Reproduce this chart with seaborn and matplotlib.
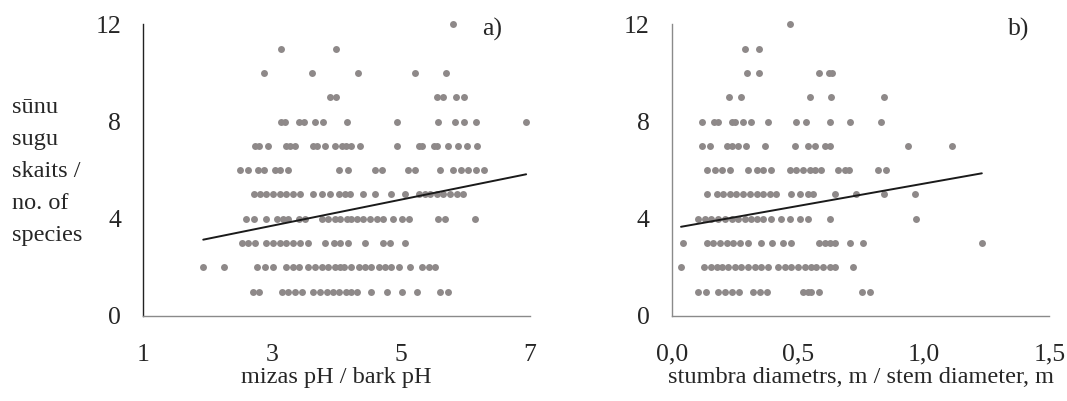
import matplotlib
matplotlib.use("Agg")
import matplotlib.pyplot as plt
from matplotlib.ticker import FuncFormatter
import seaborn as sns
import pandas as pd

# Bark pH of each tree, grouped by the number of moss species found on it
ph_1 = [2.70, 2.80, 3.15, 3.25, 3.35, 3.46, 3.64, 3.74, 3.85, 3.95, 4.03, 4.15, 4.23, 4.32, 4.54, 4.78, 5.01, 5.25, 5.60, 5.73]
ph_2 = [1.93, 2.25, 2.76, 2.89, 3.02, 3.22, 3.33, 3.42, 3.56, 3.66, 3.77, 3.87, 3.97, 4.05, 4.12, 4.23, 4.34, 4.44, 4.54, 4.65, 4.75, 4.85, 4.96, 5.14, 5.32, 5.43, 5.53]
ph_3 = [2.53, 2.63, 2.73, 2.91, 3.02, 3.12, 3.22, 3.33, 3.43, 3.56, 3.82, 3.96, 4.05, 4.18, 4.44, 4.72, 4.83, 5.06]
ph_4 = [2.59, 2.71, 2.91, 3.07, 3.16, 3.25, 3.41, 3.51, 3.77, 3.87, 3.97, 4.05, 4.16, 4.23, 4.31, 4.41, 4.52, 4.62, 4.72, 4.88, 5.01, 5.13, 5.58, 5.68, 6.15]
ph_5 = [2.71, 2.81, 2.91, 3.02, 3.12, 3.22, 3.33, 3.43, 3.64, 3.77, 3.90, 4.03, 4.13, 4.21, 4.41, 4.59, 4.85, 5.06, 5.28, 5.37, 5.45, 5.55, 5.65, 5.76, 5.86, 5.96]
ph_6 = [2.50, 2.62, 2.78, 2.88, 3.04, 3.12, 3.24, 4.03, 4.17, 4.59, 4.70, 5.11, 5.22, 5.60, 5.81, 5.93, 6.04, 6.16, 6.28]
ph_7 = [2.73, 2.80, 2.94, 3.21, 3.27, 3.35, 3.63, 3.69, 3.82, 3.97, 4.08, 4.15, 4.23, 4.36, 4.93, 5.27, 5.33, 5.51, 5.56, 5.73, 5.88, 6.03, 6.17]
ph_8 = [3.13, 3.20, 3.42, 3.50, 3.66, 3.79, 4.16, 4.93, 5.58, 5.84, 5.97, 6.16, 6.94]
ph_9 = [3.89, 3.99, 5.55, 5.65, 5.85, 5.97]
ph_10 = [2.88, 3.61, 4.33, 5.22, 5.69]
ph_11 = [3.13, 3.99]
ph_12 = [5.81]

# Stem diameter (m) of each tree, grouped by the number of moss species
diam_1 = [0.105, 0.135, 0.185, 0.211, 0.238, 0.267, 0.323, 0.350, 0.380, 0.521, 0.541, 0.555, 0.587, 0.756, 0.788]
diam_2 = [0.037, 0.129, 0.156, 0.178, 0.198, 0.224, 0.251, 0.277, 0.303, 0.330, 0.356, 0.383, 0.422, 0.449, 0.475, 0.501, 0.528, 0.554, 0.574, 0.601, 0.627, 0.647, 0.722]
diam_3 = [0.044, 0.139, 0.165, 0.191, 0.218, 0.244, 0.271, 0.303, 0.356, 0.399, 0.442, 0.475, 0.587, 0.607, 0.627, 0.647, 0.709, 0.759, 1.232]
diam_4 = [0.105, 0.132, 0.158, 0.185, 0.211, 0.238, 0.264, 0.290, 0.317, 0.337, 0.363, 0.396, 0.436, 0.468, 0.508, 0.541, 0.627, 0.970]
diam_5 = [0.139, 0.178, 0.204, 0.231, 0.257, 0.284, 0.310, 0.337, 0.363, 0.390, 0.416, 0.475, 0.508, 0.540, 0.560, 0.650, 0.733, 0.845, 0.966]
diam_6 = [0.139, 0.172, 0.198, 0.231, 0.303, 0.337, 0.363, 0.396, 0.468, 0.495, 0.521, 0.548, 0.568, 0.594, 0.660, 0.687, 0.706, 0.818, 0.851]
diam_7 = [0.119, 0.152, 0.218, 0.238, 0.264, 0.297, 0.370, 0.488, 0.541, 0.568, 0.607, 0.627, 0.937, 1.113]
diam_8 = [0.121, 0.169, 0.182, 0.238, 0.253, 0.284, 0.317, 0.383, 0.495, 0.532, 0.627, 0.709, 0.832]
diam_9 = [0.228, 0.277, 0.548, 0.634, 0.845]
diam_10 = [0.300, 0.347, 0.585, 0.625, 0.635]
diam_11 = [0.290, 0.346]
diam_12 = [0.470]

# Linear trend lines (end points)
fit_ph_x = [1.93, 6.94]
fit_ph_y = [3.14, 5.83]
fit_diam_x = [0.037, 1.232]
fit_diam_y = [3.67, 5.87]

x_ticks_ph = [1, 3, 5, 7]
x_ticks_diam = [0.0, 0.5, 1.0, 1.5]
y_ticks = [0, 4, 8, 12]
ylabel_lines = ["sūnu", "sugu", "skaits /", "no. of", "species"]
xlabel_ph = "mizas pH / bark pH"
xlabel_diam = "stumbra diametrs, m / stem diameter, m"


def to_frame(groups, name):
    rows = []
    for count, values in enumerate(groups, start=1):
        for v in values:
            rows.append({name: v, "species": count})
    return pd.DataFrame(rows)


df_ph = to_frame([ph_1, ph_2, ph_3, ph_4, ph_5, ph_6, ph_7, ph_8, ph_9, ph_10, ph_11, ph_12], "ph")
df_diam = to_frame([diam_1, diam_2, diam_3, diam_4, diam_5, diam_6, diam_7, diam_8,
                    diam_9, diam_10, diam_11, diam_12], "diam")

sns.set_style("white")
plt.rcParams["font.family"] = ["Liberation Serif", "DejaVu Serif"]

W, H = 1067, 401
fig = plt.figure(figsize=(W / 100, H / 100), dpi=100)

y_top, y_bot = 24.3, 316.0
ax_a = fig.add_axes([143.3 / W, 1 - y_bot / H, (530.0 - 143.3) / W, (y_bot - y_top) / H])
ax_b = fig.add_axes([671.7 / W, 1 - y_bot / H, (1049.3 - 671.7) / W, (y_bot - y_top) / H])

dot = "#8e8989"
fs = 17.5
fs_tick = 18.5

sns.scatterplot(data=df_ph, x="ph", y="species", ax=ax_a, color=dot, s=25,
                linewidth=0, clip_on=False, zorder=3)
sns.lineplot(x=fit_ph_x, y=fit_ph_y, ax=ax_a, color="#1a1a1a", linewidth=1.4, zorder=4)
sns.scatterplot(data=df_diam, x="diam", y="species", ax=ax_b, color=dot, s=25,
                linewidth=0, clip_on=False, zorder=3)
sns.lineplot(x=fit_diam_x, y=fit_diam_y, ax=ax_b, color="#1a1a1a", linewidth=1.4, zorder=4)

ax_a.set_xlim(1, 7)
ax_b.set_xlim(0, 1.5)
for ax, xt, xl in ((ax_a, x_ticks_ph, xlabel_ph), (ax_b, x_ticks_diam, xlabel_diam)):
    ax.set_ylim(0, 12)
    ax.set_xticks(xt)
    ax.set_yticks(y_ticks)
    ax.set_ylabel("")
    ax.set_xlabel(xl, fontsize=fs, labelpad=1)
    for s in ("top", "right"):
        ax.spines[s].set_visible(False)
    ax.spines["bottom"].set_color("#8a8a8a")
    ax.spines["bottom"].set_linewidth(1.0)
    ax.spines["left"].set_linewidth(1.0)
    ax.tick_params(axis="x", direction="in", length=6, width=1.0, color="#8a8a8a",
                   labelsize=fs_tick, pad=20)
    ax.tick_params(axis="y", direction="out", length=6, width=1.0,
                   labelsize=fs_tick, pad=10)

ax_a.spines["left"].set_color("#222222")
ax_a.tick_params(axis="y", color="#222222")
ax_b.spines["left"].set_color("#8a8a8a")
ax_b.tick_params(axis="y", color="#8a8a8a")

ax_b.xaxis.set_major_formatter(FuncFormatter(lambda v, p: f"{v:.1f}".replace(".", ",")))

fig.text(482 / W, 1 - 36 / H, "a)", fontsize=fs_tick, va="baseline", ha="left")
fig.text(1008 / W, 1 - 36 / H, "b)", fontsize=fs_tick, va="baseline", ha="left")

baselines = [113, 145, 177, 209, 241]
for line, yb in zip(ylabel_lines, baselines):
    fig.text(12 / W, 1 - yb / H, line, fontsize=fs, va="baseline", ha="left")

fig.savefig("out.png", dpi=100)
